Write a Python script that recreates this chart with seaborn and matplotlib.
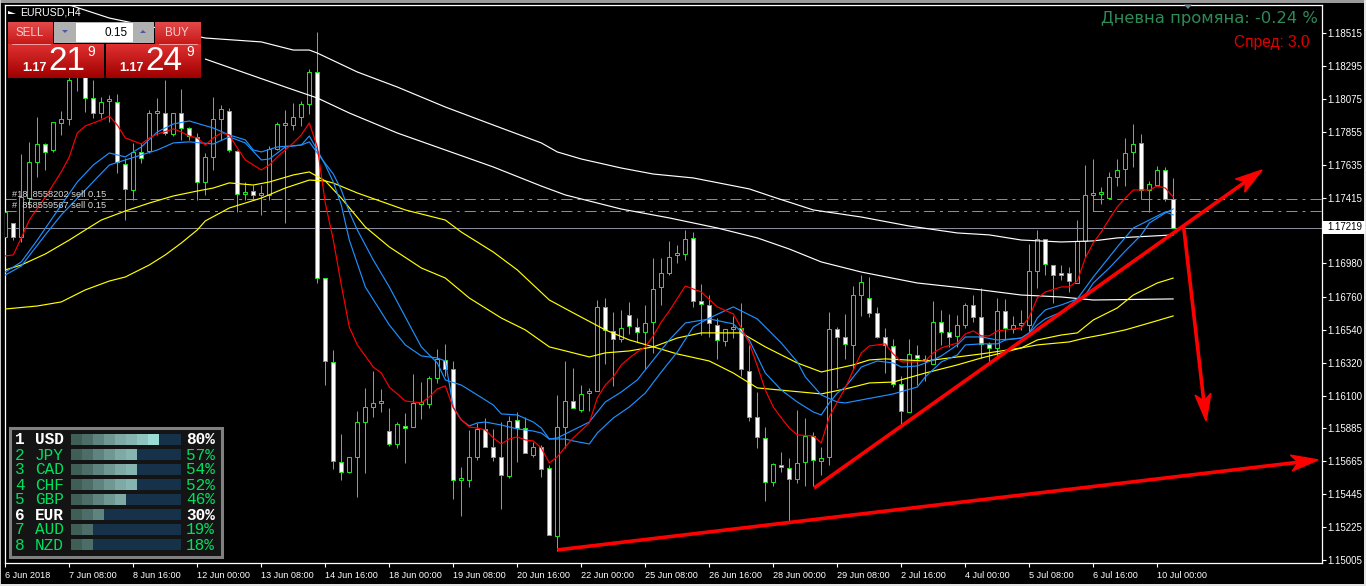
import numpy as np
import pandas as pd
import seaborn as sns
import matplotlib
matplotlib.use("Agg")
import matplotlib.pyplot as plt
from matplotlib.patches import Polygon, Rectangle

# prices are in points (1/100000), bars are 4h candles of EURUSD
opens = [117156,117249,117156,117415,117655,117775,117735,117915,117941,118234,
         118267,118081,117981,118061,118055,117642,117469,117722,117728,117981,
         117981,117841,117981,117881,117822,117522,117689,117941,117994,117728,
         117442,117462,117436,117436,117742,117901,117901,117955,118041,118254,
         116883,116325,115660,115593,115693,115925,116025,116052,115865,115779,
         115899,115892,116045,116045,116218,116338,116278,115540,115540,115693,
         115879,115759,115693,115566,115939,115885,115706,115759,115620,115167,
         115892,116065,116005,116118,116132,116691,116531,116478,116637,116558,
         116524,116591,116824,116917,117037,117043,117150,116730,116704,116571,
         116464,116544,116551,116265,115959,115819,115526,115640,115620,115546,
         115660,115832,115666,115693,116544,116491,116438,116770,116750,116651,
         116491,116431,116178,115992,116371,116345,116311,116591,116524,116498,
         116571,116704,116624,116445,116418,116664,116544,116571,116571,116930,
         117143,116970,116917,116917,116850,117130,117436,117442,117415,117555,
         117609,117722,117782,117469,117502,117602,117409]
highs = [117323,117249,117708,117789,117955,117782,117921,117994,118267,118400,
         118334,118201,118088,118101,118108,117682,117782,117782,118001,118081,
         118201,117981,118141,117888,117848,117715,118088,118035,118015,117735,
         117522,117502,117502,117762,117921,118001,118048,118061,118274,118520,
         116883,116405,115846,115693,115999,116152,116265,116145,116019,115925,
         115985,116245,116191,116231,116411,116445,116331,115626,115872,115919,
         115952,115879,115925,115965,115992,115959,115792,115772,115640,116105,
         116331,116285,116171,116152,116737,116750,116657,116671,116724,116617,
         116704,117016,117016,117130,117103,117203,117190,116844,116770,116617,
         116544,116631,116717,116438,116125,115892,115653,115726,115686,116005,
         115952,115859,115759,116657,116558,116644,116830,116903,116890,116691,
         116551,116478,116231,116478,116438,116371,116730,116671,116644,116637,
         116717,116770,116817,116458,116750,116744,116631,116671,117110,117203,
         117143,116970,116970,116957,117269,117635,117675,117489,117589,117675,
         117815,117908,117841,117529,117629,117622,117549]
lows = [117123,117136,117123,117349,117555,117602,117722,117835,117901,118128,
        117988,117948,117948,117921,117582,117269,117402,117649,117715,117835,
        117835,117828,117802,117802,117402,117436,117602,117802,117722,117323,
        117402,117402,117303,117402,117735,117249,117868,117895,117975,116850,
        116171,115613,115540,115586,115426,115586,115959,115992,115766,115752,
        115653,115892,115945,116019,116185,116231,115413,115300,115493,115673,
        115759,115666,115346,115553,115660,115719,115693,115560,115174,115067,
        115752,116019,115992,115999,116132,116311,116165,116458,116511,116458,
        116278,116385,116704,116903,116983,117003,116691,116504,116491,116345,
        116431,116484,116231,115932,115752,115400,115500,115593,115260,115520,
        115500,115500,115573,115640,116152,116345,116271,116631,116624,116484,
        116251,116158,115905,115992,116171,116198,116311,116438,116425,116425,
        116551,116591,116351,116318,116365,116471,116518,116538,116524,116817,
        116903,116717,116870,116790,116850,117023,117329,117376,117415,117495,
        117495,117622,117409,117323,117502,117396,117219]
closes = [117323,117156,117422,117655,117775,117722,117921,117941,118201,118334,
          118081,117981,118055,118061,117655,117476,117722,117682,117981,117981,
          117848,117981,117881,117828,117522,117689,117941,118008,117735,117442,
          117456,117436,117436,117742,117908,117901,117955,118041,118254,116883,
          116331,115666,115593,115693,115925,116025,116052,116065,115779,115912,
          115885,116052,116045,116218,116345,116278,115540,115540,115693,115879,
          115759,115693,115573,115932,115885,115719,115759,115613,115174,115892,
          116065,116019,116112,116132,116691,116538,116478,116551,116564,116524,
          116584,116810,116917,117023,117037,117143,116730,116711,116584,116471,
          116544,116544,116278,115959,115826,115526,115646,115626,115546,115653,
          115832,115673,115686,116544,116491,116445,116770,116857,116651,116491,
          116438,116178,115999,116378,116351,116331,116591,116524,116491,116571,
          116704,116624,116445,116418,116664,116551,116571,116571,116930,117143,
          116977,116903,116903,116863,117130,117436,117449,117449,117555,117602,
          117715,117775,117469,117509,117602,117409,117219]

# moving averages, read at the bars where they bend
red_bars = [0,1,2,3,5,7,8,9,10,12,13,14,15,17,18,19,21,22,23,24,25,26,27,28,29,30,32,33,34,35,36,37,38,39,40,41,42,43,44,46,47,48,50,52,53,54,55,56,57,58,59,60,61,62,63,64,65,66,67,68,69,70,71,73,74,75,76,77,78,79,80,81,82,83,85,87,89,91,92,93,94,95,96,97,98,99,101,102,103,104,105,106,107,108,110,111,112,114,115,116,117,119,120,121,122,123,124,126,127,128,129,130,132,133,134,135,136,137,138,139,140,141,142,143,144,145,146]
red_vals = [117030,117037,117150,117269,117422,117589,117689,117848,117895,117935,117961,117901,117815,117775,117815,117841,117875,117855,117828,117815,117768,117815,117848,117835,117748,117669,117602,117635,117689,117735,117782,117835,117915,117755,117382,117136,116837,116557,116438,116291,116251,116158,116065,116052,116092,116145,116165,116019,115939,115892,115885,115872,115819,115779,115812,115826,115806,115799,115752,115653,115693,115759,115819,115919,116085,116171,116225,116305,116351,116391,116425,116498,116591,116664,116830,116790,116691,116644,116551,116451,116298,116138,116025,115952,115885,115839,115832,115786,115959,116058,116152,116271,116385,116431,116445,116378,116325,116325,116331,116385,116418,116451,116511,116531,116498,116498,116531,116544,116551,116624,116750,116790,116824,116824,116863,117016,117117,117190,117276,117356,117415,117469,117469,117469,117495,117482,117422]
blue_a_bars = [0,2,4,7,9,11,13,15,17,19,21,23,26,28,30,31,32,34,37,38,39,40,41,42,43,45,48,50,52,54,55,56,57,58,59,60,62,64,66,67,68,69,71,73,74,75,77,79,81,83,85,88,91,93,95,97,99,101,102,103,104,105,107,109,111,112,114,116,117,119,120,122,124,126,127,128,129,130,132,134,135,136,138,139,141,143,145,146]
blue_a_vals = [116923,116990,117136,117369,117522,117635,117715,117689,117755,117855,117908,117928,117881,117835,117802,117735,117722,117755,117768,117828,117735,117635,117522,117369,117136,116824,116571,116438,116365,116351,116331,116025,115939,115899,115919,115925,115905,115879,115865,115852,115812,115819,115872,115925,115992,116058,116125,116205,116338,116471,116584,116611,116578,116471,116251,116138,116058,115992,115972,116052,116118,116158,116291,116331,116318,116291,116298,116338,116365,116438,116491,116491,116471,116478,116484,116518,116617,116671,116704,116744,116817,116890,117023,117090,117216,117269,117323,117303]
blue_b_bars = [0,2,5,7,10,13,17,19,21,23,26,28,30,32,33,35,37,38,39,41,42,43,44,46,48,50,52,54,55,57,59,61,62,64,66,67,68,70,71,73,74,76,78,80,82,84,86,88,91,94,97,99,100,102,104,105,107,111,114,115,117,119,120,122,124,125,127,128,129,130,132,134,135,136,138,140,142,143,145,146]
blue_b_vals = [116903,116963,117170,117303,117469,117635,117702,117735,117782,117789,117775,117822,117782,117669,117675,117755,117768,117789,117715,117575,117469,117323,117203,117003,116824,116624,116425,116318,116205,116171,116105,116038,115979,115972,115925,115885,115812,115812,115799,115779,115852,115952,116025,116118,116258,116391,116558,116617,116691,116611,116451,116325,116225,116105,116058,116052,116072,116112,116158,116225,116325,116371,116438,116445,116445,116471,116484,116518,116571,116611,116657,116744,116770,116850,116950,117063,117170,117249,117316,117343]
yellow_a_bars = [0,2,5,8,10,12,15,18,21,24,26,28,31,33,36,38,40,42,45,48,52,55,58,62,65,68,71,73,75,78,81,84,87,92,95,99,102,106,108,110,115,122,127,129,132,134,136,139,141,144,146]
yellow_a_vals = [116937,116970,117043,117136,117203,117269,117329,117382,117429,117462,117482,117516,117502,117522,117569,117589,117529,117415,117223,117090,116950,116883,116750,116617,116538,116425,116385,116358,116385,116398,116425,116484,116518,116518,116425,116318,116258,116305,116338,116345,116331,116378,116418,116471,116504,116518,116604,116684,116770,116850,116883]
yellow_b_bars = [0,4,7,10,13,15,18,20,22,24,25,28,32,35,38,40,41,44,50,55,57,61,64,68,71,75,78,81,84,88,91,94,98,102,105,108,111,115,119,122,125,127,129,133,135,137,140,143,146]
yellow_b_vals = [116677,116697,116724,116804,116863,116890,116970,117037,117116,117203,117263,117349,117415,117482,117535,117529,117515,117449,117336,117269,117189,117056,116937,116737,116651,116538,116471,116425,116378,116331,116251,116152,116132,116112,116145,116185,116191,116251,116305,116351,116391,116418,116438,116458,116484,116504,116538,116584,116631]
white_a_bars = [8,13,25,32,36,38,39,44,49,55,61,67,69,72,77,81,86,93,96,101,107,113,119,123,127,132,136,139,146]
white_a_vals = [118700,118613,118480,118454,118400,118400,118380,118254,118154,118021,117901,117782,117722,117675,117615,117575,117549,117476,117422,117336,117289,117229,117183,117170,117136,117123,117130,117150,117170]
white_b_bars = [25,35,39,43,49,55,61,67,70,72,77,83,89,94,98,102,107,114,122,127,132,136,146]
white_b_vals = [118340,118154,118081,117981,117848,117735,117622,117495,117436,117409,117342,117283,117216,117150,117076,116990,116923,116850,116804,116770,116757,116737,116744]

x_tick_bars = [0,8,16,24,32,40,48,56,64,72,80,88,96,104,112,120,128,136,144]
x_tick_labels = ["6 Jun 2018","7 Jun 08:00","8 Jun 16:00","12 Jun 00:00","13 Jun 08:00","14 Jun 16:00",
                 "18 Jun 00:00","19 Jun 08:00","20 Jun 16:00","22 Jun 00:00","25 Jun 08:00","26 Jun 16:00",
                 "28 Jun 00:00","29 Jun 08:00","2 Jul 16:00","4 Jul 00:00","5 Jul 08:00","6 Jul 16:00","10 Jul 00:00"]
y_tick_prices = [1.18515,1.18295,1.18075,1.17855,1.17635,1.17415,1.16980,1.16760,
                 1.16540,1.16320,1.16100,1.15885,1.15665,1.15445,1.15225,1.15005]

order_prices = [1.17406,1.17326]
order_labels = ["#18_8558202 sell 0.15","#  858559567 sell 0.15"]
bid_price = 1.17219
bid_label = "1.17219"

# hand drawn arrows: start bar, start price, end bar, end price
arrow_bars = [(69.0,164.1),(101.1,157.1),(147.3,150.1)]
arrow_prices = [(1.15074,1.15673),(1.15486,1.17602),(1.17223,1.15932)]

currencies = ["USD","JPY","CAD","CHF","GBP","EUR","AUD","NZD"]
strength_pct = [80,57,54,52,46,30,19,18]
strength_cells = [8,6,6,6,5,3,2,2]
cell_colors = ["#3f5f56","#4d6d68","#5f837f","#6f9893","#7fa9a5","#84b5b0","#8ec5bf","#9bdcd5"]

GREEN = "#1ee61e"
BLUE = "#1e90ff"
W, H = 1366, 586
LEFT, RIGHT, TOP, BOTTOM = 5, 1321.5, 4.5, 563

sns.set_style("dark", {"axes.facecolor": "black", "figure.facecolor": "black"})
plt.rcParams["font.family"] = ["Liberation Sans", "DejaVu Sans"]
plt.rcParams["lines.scale_dashes"] = False

fig = plt.figure(figsize=(W / 100, H / 100), dpi=100, facecolor="black")
ax = fig.add_axes([LEFT / W, 1 - BOTTOM / H, (RIGHT - LEFT) / W, (BOTTOM - TOP) / H])
ax.set_facecolor("black")

bars = np.arange(len(opens))
o, h, l, c = [np.array(v) / 1e5 for v in (opens, highs, lows, closes)]

# candles
ax.vlines(bars, l, h, color=GREEN, lw=0.72, zorder=2, snap=True)
tops = np.maximum(o, c)
bottoms = np.minimum(o, c)
heights = np.maximum(tops - bottoms, 0.00012)
fills = ["white" if cl < op else "black" for op, cl in zip(o, c)]
ax.bar(bars, heights, bottom=bottoms, width=0.5, color=fills, edgecolor=GREEN, linewidth=0.72,
       zorder=3, snap=True)

for y in order_prices:
    ax.axhline(y, color="#32cd32", lw=0.72, ls=(0, (8, 3.6, 2.2, 3.6)), zorder=2, snap=True)
ax.axhline(bid_price, color="#8a8a9a", lw=0.72, zorder=2, snap=True)

lines = [(white_a_bars, white_a_vals, "white"), (white_b_bars, white_b_vals, "white"),
         (yellow_a_bars, yellow_a_vals, "#ffff00"), (yellow_b_bars, yellow_b_vals, "#ffff00"),
         (blue_a_bars, blue_a_vals, BLUE), (blue_b_bars, blue_b_vals, BLUE),
         (red_bars, red_vals, "#ff0000")]
for xs, vals, col in lines:
    df = pd.DataFrame({"bar": xs, "price": np.array(vals) / 1e5})
    sns.lineplot(data=df, x="bar", y="price", color=col, lw=0.85, ax=ax, estimator=None, zorder=4)

ax.set_xlim((LEFT - 5.3) / 8, (RIGHT - 5.3) / 8)
ax.set_ylim(1.14987, 1.18703)
ax.set_xlabel("")
ax.set_ylabel("")
ax.grid(False)
for s in ax.spines.values():
    s.set_color("white")
    s.set_linewidth(0.9)
    s.set_visible(True)

ax.set_xticks(x_tick_bars)
ax.set_xticklabels(x_tick_labels, ha="left")
ax.set_yticks(y_tick_prices)
ax.set_yticklabels([f"{v:.5f}" for v in y_tick_prices])
ax.yaxis.tick_right()
ax.tick_params(axis="x", bottom=True, length=3, width=0.8, color="white", labelcolor="white", labelsize=6.6, pad=3)
ax.tick_params(axis="y", right=True, left=False, length=3, width=0.8, color="white", labelcolor="white", labelsize=7, pad=1)
for t in ax.get_xticklabels():
    t.set_x(t.get_position()[0])

# trend arrows with swept heads
fig.canvas.draw()
for (x0, x1), (y0, y1) in zip(arrow_bars, arrow_prices):
    p0, p1 = ax.transData.transform([(x0, y0), (x1, y1)])
    d = (p1 - p0) / np.hypot(*(p1 - p0))
    n = np.array([-d[1], d[0]])
    neck = p1 - d * 20
    ax.plot([x0, x1 - (x1 - x0) * 20 / np.hypot(*(p1 - p0))], [y0, y1 - (y1 - y0) * 20 / np.hypot(*(p1 - p0))],
            color="#ff0000", lw=2.6, zorder=6, solid_capstyle="butt", clip_on=False)
    head = [p1, p1 - d * 27 + n * 8, neck, p1 - d * 27 - n * 8]
    fig.add_artist(Polygon(head, closed=True, color="#ff0000", transform=None, zorder=6))

# everything from the terminal window goes on a pixel overlay
ov = fig.add_axes([0, 0, 1, 1], zorder=5)
ov.patch.set_alpha(0)
ov.set_axis_off()


def px_limits():
    ov.set_xlim(0, W)
    ov.set_ylim(H, 0)


def gradient(x0, x1, y0, y1, top, bottom):
    c0 = np.array(matplotlib.colors.to_rgb(top))
    c1 = np.array(matplotlib.colors.to_rgb(bottom))
    ramp = np.linspace(0, 1, 32)[:, None, None]
    ov.imshow(c0 + (c1 - c0) * ramp, extent=(x0, x1, y1, y0), aspect="auto", zorder=2)


# window edges
for x, y, w_, h_, col in [(0, 0, W, 2.5, "#9a9a9a"), (0, 0, 1, H, "#c8c8c8"), (0, 584, W, 2, "#e4e4e4"), (1364, 0, 2, H, "#e4e4e4")]:
    ov.add_patch(Rectangle((x, y), w_, h_, color=col, lw=0, zorder=1))

ov.add_patch(Polygon([(1184, 4.5), (1192, 4.5), (1188, 9)], color="#708090", lw=0, zorder=2))

# order button panel
gradient(8, 53, 22, 44, "#e24a4a", "#c81818")
gradient(155, 201, 22, 44, "#e24a4a", "#c81818")
gradient(8, 104, 44, 78, "#e03030", "#a00000")
gradient(106, 201, 44, 78, "#e03030", "#a00000")
ov.add_patch(Rectangle((54, 22), 100, 21, color="#b0b0b0", lw=0, zorder=2))
ov.add_patch(Rectangle((76, 23), 57, 19, color="white", lw=0, zorder=3))
ov.plot([12, 50], [43.5, 43.5], color="#f2a0a0", lw=0.7, zorder=3)
ov.plot([159, 197], [43.5, 43.5], color="#f2a0a0", lw=0.7, zorder=3)
ov.add_patch(Polygon([(62, 30), (68, 30), (65, 33)], color="#4a5aa0", lw=0, zorder=3))
ov.add_patch(Polygon([(140, 33), (146, 33), (143, 30)], color="#4a5aa0", lw=0, zorder=3))
ov.text(128, 32.5, "0.15", color="black", fontsize=8.5, ha="right", va="center", zorder=4)
for x, s in [(30, "SELL"), (177, "BUY")]:
    ov.text(x, 32.5, s, color="#f6d0d0", fontsize=8.3, ha="center", va="center", zorder=4)
for x, s, x2, x3 in [(34, "21", 67, 91), (131, "24", 164, 190)]:
    ov.text(x, 68, "1.17", color="white", fontsize=9, fontweight="bold", ha="center", va="center", zorder=4)
    ov.text(x2, 61, s, color="white", fontsize=24, ha="center", va="center", zorder=4)
    ov.text(x3, 52.5, "9", color="white", fontsize=10, ha="center", va="center", zorder=4)

# chart caption and order tags
ov.add_patch(Polygon([(8, 11), (16, 14), (8, 14)], color="white", lw=0, zorder=3))
ov.text(20, 12.5, "EURUSD,H4", color="white", fontsize=7.6, va="center", zorder=4)
for y, s in zip([194, 205.5], order_labels):
    ov.text(12, y, s, color="#d8d8d8", fontsize=6.7, va="center", zorder=4)

ov.text(1318, 18, "Дневна промяна: -0.24 %", color="#2e8b57", fontsize=11.75, ha="right", va="center",
        family="DejaVu Sans", zorder=4)
ov.text(1309, 42, "Спред: 3.0", color="#e00000", fontsize=11.2, ha="right", va="center", zorder=4)

# bid tag on the price scale
ov.add_patch(Rectangle((1323, 221), 42, 13, color="white", lw=0, zorder=3))
ov.text(1327.5, 227.5, bid_label, color="black", fontsize=7, va="center", zorder=4)

# currency strength meter
ov.add_patch(Rectangle((10, 428), 212, 129, facecolor="#141414", edgecolor="#808080", lw=2.2, zorder=2))
panel = fig.add_axes([71 / W, 1 - 553 / H, 110 / W, 121 / H], zorder=6)
panel.patch.set_alpha(0)
sns.barplot(x=[10] * len(currencies), y=currencies, color="#16324a", width=0.73, saturation=1,
            edgecolor="none", linewidth=0, ax=panel)
for row, cells in enumerate(strength_cells):
    for k in range(cells):
        panel.barh(row, 1, left=k, height=0.73, color=cell_colors[k], lw=0, edgecolor="none")
panel.set_xlim(0, 10)
panel.set_ylim(7.57, -0.5)
panel.set_axis_off()

for row, (cur, pct) in enumerate(zip(currencies, strength_pct)):
    top_row = cur in ("USD", "EUR")
    col = "white" if top_row else "#00e060"
    wt = "bold" if top_row else "normal"
    y = 440 + row * 15
    for x, s in [(15, str(row + 1)), (35, cur), (186, f"{pct}%")]:
        ov.text(x, y, s, color=col, fontsize=11.6, fontweight=wt, family="Liberation Mono", va="center", zorder=4)

px_limits()
fig.savefig("out.png", dpi=100, facecolor="black")
